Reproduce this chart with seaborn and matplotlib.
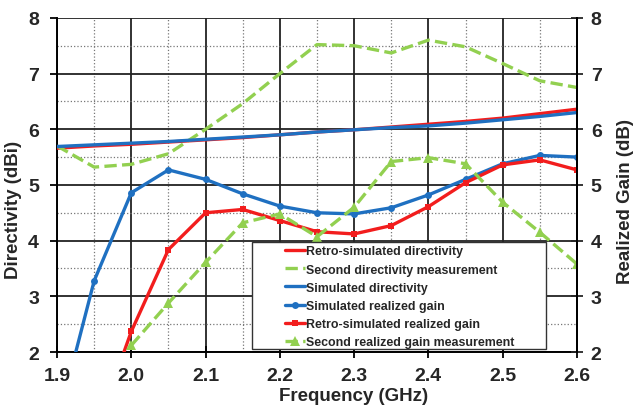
import numpy as np
import pandas as pd
import matplotlib
matplotlib.use("Agg")
import matplotlib.pyplot as plt
from matplotlib.ticker import MultipleLocator
from matplotlib.patches import Rectangle
import seaborn as sns

freq = [1.90, 1.95, 2.00, 2.05, 2.10, 2.15, 2.20, 2.25, 2.30, 2.35, 2.40, 2.45, 2.50, 2.55, 2.60]

retro_dir = [5.66, 5.70, 5.73, 5.77, 5.81, 5.85, 5.90, 5.95, 5.99, 6.04, 6.09, 6.14, 6.20, 6.28, 6.36]
second_dir = [5.70, 5.32, 5.37, 5.56, 6.00, 6.46, 7.00, 7.52, 7.50, 7.37, 7.60, 7.48, 7.18, 6.87, 6.75]
sim_dir = [5.69, 5.72, 5.75, 5.78, 5.82, 5.86, 5.90, 5.95, 5.99, 6.03, 6.06, 6.11, 6.17, 6.23, 6.30]
sim_gain = [0.70, 3.28, 4.86, 5.27, 5.10, 4.84, 4.62, 4.50, 4.48, 4.59, 4.82, 5.10, 5.38, 5.53, 5.50]
retro_gain = [np.nan, 0.50, 2.37, 3.84, 4.50, 4.56, 4.36, 4.16, 4.12, 4.27, 4.61, 5.04, 5.36, 5.45, 5.27]
second_gain = [np.nan, np.nan, 2.12, 2.88, 3.61, 4.32, 4.48, 4.07, 4.60, 5.42, 5.49, 5.38, 4.69, 4.15, 3.58]

labels = ["Retro-simulated directivity", "Second directivity measurement",
          "Simulated directivity", "Simulated realized gain",
          "Retro-simulated realized gain", "Second realized gain measurement"]
xticks = [1.9, 2.0, 2.1, 2.2, 2.3, 2.4, 2.5, 2.6]
yticks = [2, 3, 4, 5, 6, 7, 8]

RED = "#f21d1d"
GREEN = "#92d050"
BLUE = "#1f70c1"

sns.set_theme(style="white")
plt.rcParams['font.family'] = ['Liberation Sans', 'DejaVu Sans']
plt.rcParams['font.weight'] = 'bold'

fig = plt.figure(figsize=(6.34, 4.10), dpi=100)
ax = fig.add_axes([0.09, 0.139, 0.82, 0.815])

series = [
    (retro_dir, RED, "-", None, 0),
    (second_dir, GREEN, "--", None, 0),
    (sim_dir, BLUE, "-", None, 0),
    (sim_gain, BLUE, "-", "o", 5),
    (retro_gain, RED, "-", "s", 4.5),
    (second_gain, GREEN, "--", "^", 7),
]
for (vals, col, ls, mk, ms), lab in zip(series, labels):
    sns.lineplot(x=freq, y=vals, ax=ax, color=col, linestyle=ls, marker=mk,
                 markersize=ms, markeredgewidth=0, linewidth=2.4, label=lab,
                 dashes=False if ls == "-" else (3, 2.2), zorder=3)

ax.set_xlim(1.9, 2.6)
ax.set_ylim(2, 8)
ax.set_xticks(xticks)
ax.set_xticklabels([f"{t:.1f}" for t in xticks])
ax.set_yticks(yticks)
ax.xaxis.set_minor_locator(MultipleLocator(0.05))
ax.yaxis.set_minor_locator(MultipleLocator(0.5))
ax.grid(which="major", color="#222222", linewidth=1.3, linestyle="-", zorder=0)
ax.grid(which="minor", color="#777777", linewidth=0.9, linestyle=":", zorder=0)
ax.set_axisbelow(True)
ax.tick_params(axis="x", which="major", labelsize=14, direction="inout", length=8,
               width=1.3, color="black", pad=7, bottom=True)
ax.tick_params(axis="y", which="major", labelsize=14, direction="out", length=5,
               width=1.3, color="black", pad=8, left=True)
ax.tick_params(axis="both", which="minor", length=0)
ax.spines["top"].set_visible(False)
for s in ["left", "bottom", "right"]:
    ax.spines[s].set_color("black")
    ax.spines[s].set_linewidth(1.4)
ax.set_xlabel("Frequency (GHz)", fontsize=13.5, fontweight="bold")
ax.set_ylabel("Directivity (dBi)", fontsize=13.5, fontweight="bold")
ax.xaxis.set_label_coords(0.570, -0.105)
ax.yaxis.set_label_coords(-0.068, 0.428)
for t in ax.get_xticklabels() + ax.get_yticklabels():
    t.set_fontweight("bold")

ax2 = ax.twinx()
ax2.set_ylim(2, 8)
ax2.set_yticks(yticks)
ax2.tick_params(axis="y", labelsize=14, direction="inout", length=8, width=1.3, pad=6, right=True)
for t in ax2.get_yticklabels():
    t.set_fontweight("bold")
ax2.set_ylabel("Realized Gain (dB)", fontsize=13.5, fontweight="bold")
ax2.yaxis.set_label_coords(1.078, 0.452)
for s in ["top", "left", "bottom"]:
    ax2.spines[s].set_visible(False)
ax2.spines["right"].set_color("black")
ax2.spines["right"].set_linewidth(1.4)
ax2.grid(False)

frame = Rectangle((0.375, 0.009), 0.565, 0.32, transform=ax.transAxes,
                  facecolor="white", edgecolor="#333333", linewidth=1.0, zorder=4)
ax.add_patch(frame)
leg = ax.legend(loc="upper left", bbox_to_anchor=(0.4385, 0.319), frameon=False,
                prop={"size": 8.9, "weight": "bold"}, handlelength=1.6, labelspacing=0.5,
                borderpad=0, handletextpad=0.1, borderaxespad=0)
leg.set_zorder(5)

fig.savefig("out.png", dpi=100)
